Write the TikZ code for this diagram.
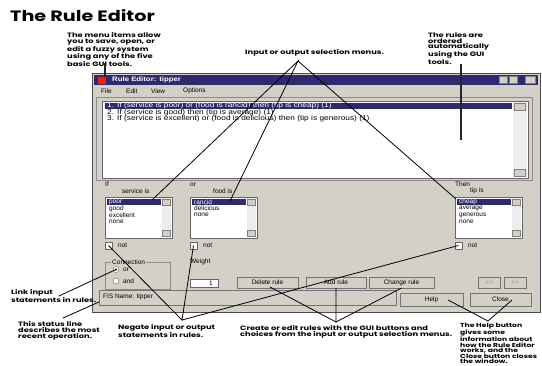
\documentclass[tikz,border=0pt]{standalone}
\usepackage{fontspec}
\setmainfont{Poppins}
\newfontfamily\annf[FakeStretch=1.32]{Poppins}
\newfontfamily\titf[FakeStretch=1.28]{Poppins}
\newfontfamily\guif{Liberation Sans}
\newfontfamily\rulef[FakeStretch=1.19]{Liberation Sans}
\newfontfamily\capf[FakeStretch=1.2]{Liberation Sans}
\definecolor{winbg}{HTML}{D4D0C8}
\definecolor{navy}{HTML}{2B2B6E}
\definecolor{track}{HTML}{EDEDED}
\begin{document}
\begin{tikzpicture}[x=1pt,y=-1pt,
  ann/.style={font=\annf\bfseries\fontsize{6.3}{5.8}\selectfont, align=left, inner sep=0pt, anchor=north west},
  gui/.style={font=\guif\fontsize{6.5}{6.5}\selectfont, inner sep=0pt, anchor=west},
  rule/.style={gui, font=\rulef\fontsize{7}{7}\selectfont},
  box/.style={anchor=north west, inner sep=0pt, outer sep=0pt},
  btn/.style={box, fill=winbg, draw=black!55, font=\guif\fontsize{6.5}{6.5}\selectfont},
  listb/.style={box, fill=white, draw=black!60},
  sbtn/.style={box, fill=winbg, draw=black!50},
  pointer/.style={line width=0.8pt, black},
  thickptr/.style={line width=1.6pt, black!85}
]
\useasboundingbox (0,0) rectangle (542,365);
% title
\node[anchor=west, inner sep=0pt, font=\titf\bfseries\fontsize{15}{15}\selectfont] (title) at (10,16) {The Rule Editor};
% window
\node[box, fill=winbg, draw=black!70, minimum width=448, minimum height=239] (win) at (92,73) {};
\node[box, fill=navy, minimum width=444, minimum height=10] (tbar) at (94,75) {};
\node[box, fill=red!80!orange, minimum width=8, minimum height=7] (icon) at (98,76.5) {};
\node[gui, text=white, font=\capf\bfseries\fontsize{6.5}{6.5}\selectfont] (ttl) at (112,80) {Rule Editor: tipper};
\node[sbtn, minimum width=8, minimum height=7] (tb1) at (499,76.5) {};
\node[sbtn, minimum width=8, minimum height=7] (tb2) at (509,76.5) {};
\node[sbtn, minimum width=10, minimum height=7] (tb3) at (525,76.5) {};
% menu
\node[gui] (m1) at (101,91) {File};
\node[gui] (m2) at (126,91) {Edit};
\node[gui] (m3) at (151,91) {View};
\node[gui] (m4) at (183,91) {Options};
% rules list
\node[box, draw=black!45, minimum width=436, minimum height=83] (rframe) at (96,97) {};
\node[listb, minimum width=426, minimum height=77] (rlist) at (102,101) {};
\node[box, fill=track, minimum width=14, minimum height=75] (rtrack) at (513,102) {};
\node[sbtn, minimum width=11, minimum height=7] (rup) at (514.5,103) {};
\node[sbtn, minimum width=11, minimum height=7] (rdn) at (514.5,169) {};
\node[box, fill=navy, minimum width=407, minimum height=6] (rhl) at (105,103) {};
\node[rule, text=white] (r1) at (107,106) {1. If (service is poor) or (food is rancid) then (tip is cheap) (1)};
\node[rule] (r2) at (107,112.5) {2. If (service is good) then (tip is average) (1)};
\node[rule] (r3) at (107,119) {3. If (service is excellent) or (food is delicious) then (tip is generous) (1)};
% labels
\node[gui] (lif) at (105,184.5) {If};
\node[gui] (lsvc) at (122,191) {service is};
\node[gui] (lor) at (190,184.5) {or};
\node[gui] (lfood) at (213,191) {food is};
\node[gui] (lthen) at (455,184.5) {Then};
\node[gui] (ltip) at (470,191) {tip is};
% service listbox
\node[listb, minimum width=67, minimum height=41] (svc) at (105,197) {};
\node[box, fill=track, minimum width=9, minimum height=39] (svctr) at (162,198) {};
\node[sbtn, minimum width=8, minimum height=6] (svcup) at (162.5,199) {};
\node[sbtn, minimum width=8, minimum height=6] (svcdn) at (162.5,230) {};
\node[box, fill=navy, minimum width=54, minimum height=6] (svchl) at (107,199) {};
\node[gui, text=white] (s1) at (109,202) {poor};
\node[gui] (s2) at (109,208.5) {good};
\node[gui] (s3) at (109,215) {excellent};
\node[gui] (s4) at (109,221.5) {none};
% food listbox
\node[listb, minimum width=67, minimum height=41] (food) at (190,197) {};
\node[box, fill=track, minimum width=9, minimum height=39] (foodtr) at (247,198) {};
\node[sbtn, minimum width=8, minimum height=6] (foodup) at (247.5,199) {};
\node[sbtn, minimum width=8, minimum height=6] (fooddn) at (247.5,230) {};
\node[box, fill=navy, minimum width=54, minimum height=6] (foodhl) at (192,199) {};
\node[gui, text=white] (f1) at (194,202) {rancid};
\node[gui] (f2) at (194,208.5) {delicious};
\node[gui] (f3) at (194,215) {none};
% tip listbox
\node[listb, minimum width=67, minimum height=41] (tip) at (455,197) {};
\node[box, fill=track, minimum width=9, minimum height=39] (tiptr) at (512,198) {};
\node[sbtn, minimum width=8, minimum height=6] (tipup) at (512.5,199) {};
\node[sbtn, minimum width=8, minimum height=6] (tipdn) at (512.5,230) {};
\node[box, fill=navy, minimum width=54, minimum height=6] (tiphl) at (457,199) {};
\node[gui, text=white] (t1) at (459,202) {cheap};
\node[gui] (t2) at (459,208.5) {average};
\node[gui] (t3) at (459,215) {generous};
\node[gui] (t4) at (459,221.5) {none};
% not checkboxes
\node[listb, minimum width=7, minimum height=7] (chk1) at (105,242) {};
\node[gui] (n1) at (118,245.5) {not};
\node[listb, minimum width=7, minimum height=7] (chk2) at (190,242) {};
\node[gui] (n2) at (203,245.5) {not};
\node[listb, minimum width=7, minimum height=7] (chk3) at (455,242) {};
\node[gui] (n3) at (468,245.5) {not};
% connection group
\node[box, draw=black!45, minimum width=65, minimum height=27] (conn) at (105,262) {};
\node[gui, fill=winbg, inner sep=1pt] (lconn) at (111,262) {Connection};
\node[circle, draw=black!60, fill=white, minimum size=6, inner sep=0pt] (rad1) at (116,269.5) {};
\node[circle, fill=black, minimum size=2.2, inner sep=0pt] (rad1dot) at (rad1.center) {};
\node[gui] (lr1) at (123,269.5) {or};
\node[circle, draw=black!60, fill=white, minimum size=6, inner sep=0pt] (rad2) at (116,281) {};
\node[gui] (lr2) at (123,281) {and};
% weight
\node[gui] (lw) at (190,262) {Weight};
\node[listb, minimum width=28, minimum height=8] (wbox) at (190,279) {};
\node[gui, anchor=east] (wval) at (213,283) {1};
% buttons
\node[btn, minimum width=61, minimum height=11] (del) at (237,277) {Delete rule};
\node[btn, minimum width=60, minimum height=11] (add) at (306,277) {Add rule};
\node[btn, minimum width=65, minimum height=11] (chg) at (369,277) {Change rule};
\node[btn, minimum width=22, minimum height=11, text=black!40] (prev) at (478,277) {<<};
\node[btn, minimum width=22, minimum height=11, text=black!40] (next) at (504,277) {>>};
% status and bottom buttons
\node[box, fill=winbg, draw=black!55, minimum width=297, minimum height=15] (status) at (99,290) {};
\node[gui] (stxt) at (103,297) {FIS Name: tipper};
\node[btn, minimum width=63, minimum height=13] (help) at (400,293) {Help};
\node[btn, minimum width=61, minimum height=13] (close) at (470,293) {Close};
% annotations
\node[ann] (a1) at (67,32.5) {The menu items allow\\you to save, open, or\\edit a fuzzy system\\using any of the five\\basic GUI tools.};
\node[ann] (a2) at (245,49.5) {Input or output selection menus.};
\node[ann] (a3) at (428,32.5) {The rules are\\ordered\\automatically\\using the GUI\\tools.};
\node[ann] (a4) at (11,289.5) {Link input\\statements in rules.};
\node[ann] (a5) at (18,321.5) {This status line\\describes the most\\recent operation.};
\node[ann] (a6) at (118,324.5) {Negate input or output\\statements in rules.};
\node[ann] (a7) at (240,325) {Create or edit rules with the GUI buttons and\\choices from the input or output selection menus.};
\node[ann, font=\annf\bfseries\fontsize{5.8}{5.5}\selectfont] (a8) at (460,323) {The Help button\\gives some\\information about\\how the Rule Editor\\works, and the\\Close button closes\\the window.};
% connector coordinates
\coordinate (p1) at (105,63);
\coordinate (ap2) at (298,61);
\coordinate (svcsel) at (152,200);
\coordinate (foodsel) at (230,201);
\coordinate (tipsel) at (456,199);
\coordinate (p3) at (461,64);
\coordinate (p3e) at (461,140);
\coordinate (p4) at (59,296);
\coordinate (p5) at (63,318);
\coordinate (stpt) at (99,302);
\coordinate (ap6) at (182,320);
\coordinate (ap7) at (336,322);
\coordinate (delpt) at (270,287);
\coordinate (ap8) at (488,321);
\coordinate (helppt) at (448,300);
\coordinate (closept) at (512,300);
% connectors
\draw[thickptr] (p1) -- (p1 |- icon.north);
\draw[pointer] (svcsel) -- (ap2) -- (foodsel);
\draw[pointer] (ap2) -- (tipsel);
\draw[thickptr] (p3) -- (p3e);
\draw[pointer] (p4) -- (rad1.center);
\draw[pointer] (p5) -- (stpt);
\draw[pointer] (chk1.center) -- (ap6) -- (chk2.center);
\draw[pointer] (ap6) -- (chk3.center);
\draw[pointer] (delpt) -- (ap7) -- (add.south);
\draw[pointer] (ap7) -- (chg.south);
\draw[pointer] (helppt) -- (ap8) -- (closept);
\end{tikzpicture}
\end{document}
